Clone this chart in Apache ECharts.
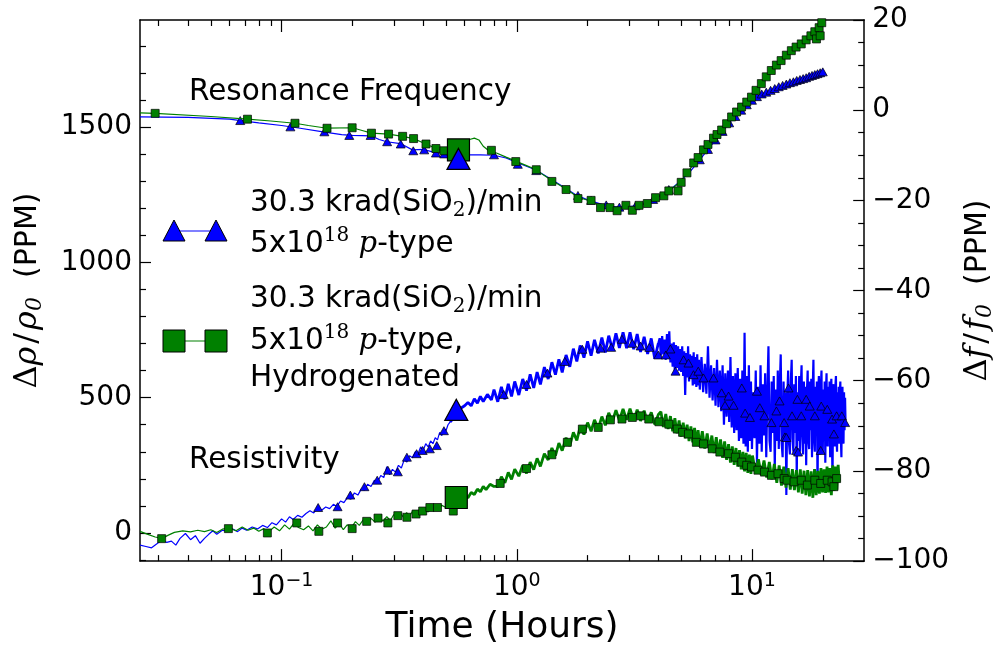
<!DOCTYPE html>
<html><head><meta charset="utf-8">
<script src="https://cdn.jsdelivr.net/npm/echarts@6/dist/echarts.min.js"></script>
<style>html,body{margin:0;padding:0;background:#fff}#c{width:1004px;height:651px}</style>
</head><body><div id="c"></div>
<script>
// ---------- tick values ----------
const xMajorTicks = [0.1, 1, 10];
const xMinorTicks = [0.03,0.04,0.05,0.06,0.07,0.08,0.09,0.2,0.3,0.4,0.5,0.6,0.7,0.8,0.9,2,3,4,5,6,7,8,9,20];
const leftMajorTicks = [0, 500, 1000, 1500];
const leftMinorTicks = [-100,100,200,300,400,600,700,800,900,1100,1200,1300,1400,1600,1700,1800];

// ---------- Resonance frequency (right axis, ppm) ----------
const freqBlueLine = [[0.025,-1.5],[0.04,-1.6],[0.06,-2.0],[0.067,-2.3],[0.08,-2.8],[0.1,-3.4],[0.12,-4.0],[0.15,-4.8],[0.18,-5.4],[0.2,-5.6],[0.24,-5.7],[0.26,-6.5],[0.28,-7.0],[0.32,-7.4],[0.36,-8.8],[0.4,-8.7],[0.45,-9.4],[0.5,-9.7],[0.57,-9.9],[0.7,-9.9],[0.8,-10.0],[0.9,-10.6],[1.0,-11.6],[1.2,-13.2],[1.4,-15.3],[1.6,-17.2],[1.8,-18.9],[2.0,-19.9],[2.3,-20.9],[2.6,-21.4],[2.9,-21.5],[3.2,-21.2],[3.6,-20.4],[4.0,-19.2],[4.5,-17.6],[5.0,-15.6],[5.5,-13.4],[6.0,-11.0],[6.5,-8.7],[7.0,-6.6],[7.5,-4.7],[8.0,-2.8],[9.0,0.0],[10.0,2.2],[11,3.6],[12,4.4],[13.3,5.4],[15,6.2],[17,7.2],[20,8.4]];
const freqGreenLine = [[0.025,-0.6],[0.029,-0.7],[0.05,-1.4],[0.0716,-2.0],[0.09,-2.4],[0.114,-2.9],[0.13,-3.4],[0.156,-4.0],[0.2,-3.9],[0.22,-4.5],[0.241,-5.1],[0.285,-5.3],[0.327,-5.8],[0.364,-6.3],[0.411,-7.5],[0.453,-8.5],[0.49,-9.0],[0.55,-9.0],[0.6,-8.8],[0.63,-6.5],[0.66,-6.2],[0.69,-6.6],[0.72,-8.0],[0.77,-9.2],[0.82,-9.5],[0.9,-10.4],[1.0,-11.4],[1.1,-12.3],[1.21,-13.2],[1.3,-14.4],[1.41,-15.6],[1.62,-17.5],[1.82,-19.3],[2.07,-20.2],[2.27,-21.2],[2.49,-21.6],[2.7,-21.9],[2.91,-21.6],[3.1,-21.7],[3.31,-21.2],[3.59,-20.6],[3.89,-19.5],[4.22,-18.6],[4.43,-17.9],[4.85,-16.3],[5.29,-14.0],[5.65,-11.9],[6.22,-9.0],[6.86,-6.3],[7.43,-4.4],[8.19,-1.7],[9.03,0.6],[9.95,2.9],[10.96,5.7],[12.08,8.6],[13.3,10.9],[14.7,13.0],[16.2,14.8],[17.8,16.5],[19.3,18.2],[20,19.4]];
const freqBlueMarks = [[0.0667,-2.3],[0.109,-3.7],[0.152,-4.8],[0.194,-5.6],[0.239,-5.6],[0.281,-7.0],[0.321,-7.5],[0.363,-9.0],[0.404,-8.8],[0.453,-9.5],[0.491,-9.7],[0.8,-9.9],[1.01,-12.0],[1.21,-13.4],[1.82,-18.9],[2.07,-20.0],[2.4,-21.0],[2.73,-21.5],[3.2,-21.2],[3.8,-19.8],[4.43,-17.6],[6.0,-11.0],[6.5,-8.7],[7.0,-6.6],[7.5,-4.7],[8.0,-2.8],[8.5,-1.4],[9.0,0.0],[9.5,1.2],[10.0,2.2],[10.5,3.0],[11,3.6],[11.5,4.0],[12,4.4],[12.5,4.8],[13,5.2],[13.5,5.5],[14,5.8],[14.5,6.1],[15,6.3],[15.5,6.6],[16,6.8],[16.5,7.0],[17,7.2],[17.5,7.5],[18,7.7],[18.5,7.9],[19,8.1],[19.5,8.3],[20,8.5]];
const freqGreenMarks = [[0.029,-0.7],[0.0716,-2.0],[0.114,-2.9],[0.156,-4.0],[0.1995,-3.9],[0.241,-5.1],[0.285,-5.3],[0.327,-5.8],[0.364,-6.3],[0.411,-7.5],[0.453,-8.5],[0.49,-9.0],[0.78,-8.9],[0.99,-11.4],[1.21,-13.2],[1.41,-15.8],[1.62,-17.6],[1.82,-19.6],[2.07,-20.0],[2.27,-21.6],[2.49,-21.6],[2.67,-22.3],[2.91,-21.1],[3.1,-22.2],[3.31,-21.1],[3.59,-20.7],[3.89,-19.4],[4.22,-19.0],[4.43,-17.9],[4.85,-17.9],[5.0,-16.0],[5.29,-13.9],[5.65,-11.7],[5.9,-10.5],[6.22,-8.8],[6.5,-7.6],[6.86,-6.2],[7.1,-5.4],[7.43,-4.4],[7.8,-3.0],[8.19,-1.5],[8.6,-0.4],[9.03,0.7],[9.5,1.8],[9.95,2.9],[10.4,4.4],[10.96,5.9],[11.5,7.4],[12.08,8.8],[12.7,10.0],[13.3,11.0],[14.0,12.2],[14.7,13.2],[15.4,14.0],[16.2,14.7],[17.0,15.6],[17.8,16.5],[18.5,17.4],[18.8,15.8],[19.3,18.3],[19.5,16.5],[19.8,19.4]];

// ---------- Resistivity (left axis, ppm) ----------
const resBlueEarly = [[0.025,-45],[0.0265,-50],[0.028,-55],[0.0295,-40],[0.031,-25],[0.0325,-35],[0.034,-30],[0.0355,-45],[0.037,-20],[0.039,-2],[0.041,-25],[0.043,-10],[0.045,-38],[0.047,-20],[0.049,-5],[0.051,8],[0.053,-5],[0.056,10],[0.059,6],[0.062,15],[0.065,5],[0.068,18],[0.071,10],[0.075,22],[0.079,15],[0.083,28],[0.087,20],[0.091,38],[0.095,30],[0.1,52],[0.104,40],[0.108,60],[0.112,50],[0.117,65],[0.122,58],[0.127,72],[0.132,82],[0.137,74],[0.142,92],[0.148,84],[0.154,96],[0.16,90],[0.166,106],[0.172,98],[0.178,118],[0.184,112],[0.19,130],[0.197,125],[0.204,148],[0.211,140],[0.218,162],[0.225,158],[0.232,180],[0.24,172],[0.248,195],[0.256,188],[0.264,212],[0.272,205],[0.28,245],[0.288,215],[0.296,235],[0.305,225],[0.314,250],[0.323,240],[0.332,270],[0.341,262],[0.35,285],[0.36,278],[0.37,300],[0.38,292],[0.39,318],[0.4,305],[0.41,330],[0.42,318],[0.43,340],[0.44,330],[0.45,352],[0.46,344],[0.47,372],[0.48,360],[0.49,385],[0.5,378],[0.51,400],[0.52,410]];
const resBlueMid = [[0.52,410],[0.54,425],[0.56,440],[0.58,462],[0.6,470],[0.62,482],[0.64,470],[0.66,496],[0.68,480],[0.7,505],[0.72,486],[0.75,512],[0.78,492],
[0.80,530],[0.83,485],[0.86,540],[0.89,494],[0.92,551],[0.95,505],[0.98,560],[1.02,510],[1.06,569],[1.10,526],[1.14,586],[1.18,536],[1.22,595],[1.26,549],[1.31,613],[1.36,569],[1.41,631],[1.46,585],[1.51,642],[1.56,593],[1.62,658],[1.68,614],[1.74,681],[1.80,634],[1.86,693],[1.93,648],[2.00,708],[2.07,655],[2.14,714],[2.22,664],[2.30,722],[2.38,667],[2.46,729],[2.55,679],[2.64,738],[2.73,684],[2.83,742],[2.93,683],[3.03,742],[3.14,679],[3.25,735],[3.36,669],[3.48,725],[3.60,662],[3.73,719],[3.86,644],[4.00,702]];
const resBlueLate = [[4.00,702],[4.05,720],[4.10,655],[4.15,728],[4.20,660],[4.25,715],[4.30,640],[4.35,735],[4.40,650],[4.45,745],[4.50,630],[4.55,700],[4.60,615],[4.65,705],[4.70,590],[4.75,695],[4.80,610],[4.85,690],[4.90,600],[4.95,680],[5.00,595],[5.05,690],[5.10,580],[5.15,672],[5.20,510],[5.25,665],[5.30,575],[5.35,690],[5.40,560],[5.45,660],[5.50,570],[5.55,655],[5.60,545],[5.65,668],[5.70,550],[5.75,650],[5.80,540],[5.85,660],[5.90,545],[5.95,640],[6.00,530],
[6.1,650],[6.2,520],[6.3,625],[6.4,515],[6.5,690],[6.6,500],[6.7,620],[6.8,490],[6.9,610],[7.0,470],[7.1,640],[7.2,465],[7.3,600],[7.4,450],[7.5,620],[7.6,400],[7.7,590],[7.8,430],[7.9,600],[8.0,410],[8.1,650],[8.2,390],[8.3,580],[8.4,370],[8.5,590],[8.6,380],[8.7,610],[8.8,340],[8.9,570],[9.0,350],[9.1,600],[9.2,330],[9.3,740],[9.4,320],[9.5,580],[9.6,300],[9.7,620],[9.8,340],[9.9,560],[10.0,310],
[10.125,520],[10.25,350],[10.375,600],[10.5,260],[10.625,540],[10.75,330],[10.875,620],[11.0,300],[11.125,550],[11.25,360],[11.375,590],[11.5,280],[11.625,520],[11.75,690],[11.875,340],[12.0,300],[12.125,560],[12.25,370],[12.375,580],[12.5,240],[12.625,530],[12.75,340],[12.875,600],[13.0,310],[13.125,540],[13.25,660],[13.375,330],[13.5,280],[13.625,560],[13.75,360],[13.875,520],[14.0,140],[14.125,500],[14.25,600],[14.375,330],[14.5,290],[14.625,560],[14.75,640],[14.875,350],[15.0,300],[15.125,550],[15.25,370],[15.375,580],[15.5,200],[15.625,520],[15.75,340],[15.875,580],[16.0,300],[16.125,540],[16.25,620],[16.375,360],[16.5,290],[16.625,560],[16.75,330],[16.875,540],[17.0,250],[17.125,520],[17.25,600],[17.375,340],[17.5,310],[17.625,560],[17.75,380],[17.875,570],[18.0,280],[18.125,530],[18.25,640],[18.375,350],[18.5,300],[18.625,540],[18.75,360],[18.875,560],[19.0,150],[19.125,520],[19.25,580],[19.375,340],[19.5,290],[19.625,540],[19.75,600],[19.875,340],[20.0,300],[20.125,530],[20.25,370],[20.375,560],[20.5,260],[20.625,520],[20.75,590],[20.875,350],[21.0,320],[21.125,540],[21.25,380],[21.375,560],[21.5,280],[21.625,520],[21.75,570],[21.875,360],[22.0,190],[22.125,510],[22.25,550],[22.375,340],[22.5,320],[22.625,540],[22.75,580],[22.875,350],[23.0,300],[23.125,520],[23.25,370],[23.375,540],[23.5,330],[23.625,520],[23.75,560],[23.875,350],[24.0,280],[24.125,510],[24.25,540],[24.375,350],[24.5,330],[24.625,520],[24.75,380],[24.875,500],[25.0,400]];
const resGreenEarly = [[0.025,6],[0.027,-5],[0.029,-15],[0.031,-20],[0.033,-8],[0.035,2],[0.038,8],[0.041,4],[0.044,10],[0.047,5],[0.05,12],[0.053,2],[0.056,14],[0.06,18],[0.064,8],[0.068,22],[0.072,10],[0.076,18],[0.08,6],[0.084,16],[0.088,4],[0.093,22],[0.098,8],[0.103,30],[0.108,14],[0.113,36],[0.118,20],[0.124,12],[0.13,26],[0.136,8],[0.142,30],[0.148,14],[0.155,22],[0.162,45],[0.169,18],[0.176,35],[0.183,12],[0.19,30],[0.198,20],[0.206,42],[0.214,28],[0.222,48],[0.23,32],[0.24,54],[0.25,40],[0.26,62],[0.27,44],[0.28,60],[0.29,46],[0.3,68],[0.31,55],[0.32,72],[0.33,58],[0.34,75],[0.35,62],[0.36,80],[0.37,66],[0.38,84],[0.39,72],[0.4,88],[0.42,78],[0.44,95],[0.46,86],[0.48,102],[0.5,94],[0.52,108],[0.54,100]];
const resGreenLate = [[0.54,100],[0.56,118],[0.58,125],[0.6,140],[0.62,130],[0.64,150],[0.66,142],[0.68,162],[0.7,152],[0.72,172],[0.74,160],[0.77,180],[0.8,172],
[0.83,172],[0.86,208],[0.89,185],[0.92,224],[0.95,198],[0.98,236],[1.02,210],[1.06,250],[1.10,220],[1.14,262],[1.18,234],[1.22,276],[1.26,246],[1.31,293],[1.36,270],[1.41,314],[1.46,286],[1.51,332],[1.56,304],[1.62,352],[1.68,322],[1.74,372],[1.80,342],[1.86,392],[1.93,364],[2.00,408],[2.07,376],[2.14,418],[2.22,386],[2.30,430],[2.38,398],[2.46,444],[2.55,412],[2.64,454],[2.73,416],[2.83,458],[2.93,418],[3.03,459],[3.14,416],[3.25,456],[3.36,414],[3.48,452],[3.60,408],[3.73,446],[3.86,401],[4.00,438],
[4.1,448],[4.2,392],[4.3,440],[4.4,384],[4.5,432],[4.6,376],[4.7,424],[4.8,368],[4.9,416],[5.0,356],[5.1,408],[5.2,350],[5.3,400],[5.4,340],[5.5,394],[5.6,335],[5.7,388],[5.8,328],[5.9,380],[6.0,320],
[6.15,376],[6.3,312],[6.45,368],[6.6,305],[6.75,360],[6.9,295],[7.05,354],[7.2,288],[7.35,346],[7.5,278],[7.65,338],[7.8,270],[7.95,328],[8.1,260],[8.25,320],[8.4,252],[8.55,314],[8.7,245],[8.85,306],[9.0,235],[9.15,300],[9.3,228],[9.45,296],[9.6,222],[9.75,290],[9.9,218],[10.05,286],
[10.35,222],[10.65,272],[10.95,215],[11.25,268],[11.55,205],[11.85,262],[12.15,198],[12.45,255],[12.75,185],[13.05,250],[13.35,175],[13.65,245],[13.95,168],[14.25,240],[14.55,160],[14.85,236],[15.15,158],[15.45,232],[15.75,150],[16.05,235],[16.35,145],[16.65,230],[16.95,140],[17.25,232],[17.55,135],[17.85,228],[18.15,130],[18.45,236],[18.75,140],[19.05,230],[19.35,145],[19.65,240],[19.95,150],[20.25,235],[20.55,148],[20.85,245],[21.15,150],[21.45,240],[21.75,140],[22.05,250],[22.35,155],[22.65,245],[22.95,160],[23.25,252],[23.5,190]];
const resBlueMarks = [[0.143,94],[0.173,97],[0.196,140],[0.225,171],[0.255,195],[0.283,232],[0.312,226],[0.341,280],[0.375,293],[0.398,305],[0.427,311],[0.457,323],[0.49,378],[0.88,512],[1.1,549],[1.35,591],[1.6,634],[1.9,679],[2.27,683],[2.52,686],[2.8,716],[3.1,701],[3.36,691],[3.66,686],[4.0,658],[4.3,658],[4.5,680],[4.73,598],[5.12,640],[5.37,628],[5.64,585],[5.91,598],[6.22,573],[6.86,573],[7.43,518],[7.68,472],[7.95,506],[8.35,472],[9.05,536],[9.35,443],[9.8,427],[10.5,524],[10.8,463],[11.3,433],[12.1,408],[12.7,451],[13.1,488],[13.7,408],[13.8,355],[14.0,353],[14.3,536],[14.8,433],[15.4,305],[15.6,494],[15.7,299],[16.2,433],[17.0,494],[17.6,469],[18.5,433],[19.6,305],[19.7,469],[20.9,457],[21.9,421],[22.3,366],[22.9,433],[24.1,433],[24.9,408]];
const resGreenMarks = [[0.0309,-21],[0.0594,16],[0.087,0],[0.116,37],[0.144,6],[0.173,37],[0.1995,16],[0.23,43],[0.257,55],[0.283,37],[0.312,64],[0.341,58],[0.373,70],[0.398,81],[0.427,94],[0.46,94],[0.537,81],[0.85,183],[1.1,238],[1.41,289],[1.64,335],[1.9,384],[2.22,390],[2.5,418],[2.8,421],[3.1,427],[3.36,433],[3.64,421],[4.02,411],[4.43,402],[4.81,384],[5.07,372],[5.37,366],[5.8,335],[6.22,329],[6.77,311],[7.3,299],[7.95,293],[8.5,280],[9.05,262],[9.5,250],[9.95,244],[10.6,232],[11.3,225],[12.1,213],[12.9,219],[13.7,201],[14.1,195],[15.1,189],[16.2,195],[17.2,177],[18.5,195],[19.6,183],[20.9,195],[21.9,189],[22.3,171],[22.9,201]];

// ---------- emphasised points ----------
const bigBlueRes = [[0.553,455]];
const bigGreenRes = [[0.553,131]];
const bigBlueFreq = [[0.565,-10.8]];
const bigGreenFreq = [[0.565,-8.8]];

// ---------- text ----------
const legendLines = [
  '30.3 krad(SiO{sub|2})/min', '5x10{sup|18} {it|p}-type',
  '30.3 krad(SiO{sub|2})/min', '5x10{sup|18} {it|p}-type,', 'Hydrogenated'
];
const annotations = ['Resonance Frequency', 'Resistivity'];
const xTitle = 'Time (Hours)';
const leftTitle = '{d|\u0394}{i|\u03c1}{sl|/}{i|\u03c1}{s|0}{a|  (PPM)}';
const rightTitle = '{d|\u0394}{i|f}{sl|/}{i|f}{s|0}{a|  (PPM)}';

const BLUE = '#0000ff', GREEN = '#008000';
const FONT = 'DejaVu Sans';
const TXT = '29.5px "DejaVu Sans"';
const richText = {
  sub: {fontSize: 20, fontFamily: 'DejaVu Serif', verticalAlign: 'bottom', lineHeight: 20, fill: '#000'},
  sup: {fontSize: 20, fontFamily: 'DejaVu Serif', verticalAlign: 'top', lineHeight: 20, fill: '#000'},
  it: {fontSize: 29, fontFamily: 'DejaVu Serif', fontStyle: 'italic', fill: '#000'}
};
const titleRich = {
  a: {fontSize: 30, fontFamily: FONT, color: '#000'},
  d: {fontSize: 32, fontFamily: 'DejaVu Serif', color: '#000'},
  i: {fontSize: 32, fontFamily: 'DejaVu Serif', fontStyle: 'italic', color: '#000'},
  sl: {fontSize: 32, fontFamily: 'DejaVu Serif', color: '#000', padding: [0, 3, 0, 3]},
  s: {fontSize: 22, fontFamily: 'DejaVu Serif', fontStyle: 'italic', verticalAlign: 'bottom', lineHeight: 22, color: '#000'}
};

const chart = echarts.init(document.getElementById('c'), null, {renderer: 'canvas'});
const axisLineStyle = {color: '#000', width: 1.5};
const supFmt = v => { const e = Math.round(Math.log10(v)); return '10{s|' + (e < 0 ? '\u2212' + (-e) : e) + '}'; };

function xAx(pos, major, withLabel) {
  return {
    type: 'log', logBase: 10, min: 0.025, max: 30, position: pos,
    splitLine: {show: false},
    axisLine: {show: major, onZero: false, lineStyle: axisLineStyle},
    axisTick: {show: true, inside: true, length: major ? 12 : 6, customValues: major ? xMajorTicks : xMinorTicks, lineStyle: {color: '#000', width: 1.2}},
    axisLabel: withLabel ? {
      show: true, customValues: xMajorTicks, formatter: supFmt, margin: 10,
      color: '#000', fontSize: 28, fontFamily: FONT, lineHeight: 34,
      rich: {s: {fontSize: 19, fontFamily: FONT, verticalAlign: 'top', lineHeight: 19, color: '#000'}}
    } : {show: false},
    name: withLabel ? xTitle : '', nameLocation: 'middle', nameGap: 44,
    nameTextStyle: {fontSize: 36, fontFamily: FONT, color: '#000'}
  };
}

function marks(data, yIdx, shape, size, color, bw, z) {
  return {type: 'scatter', data: data, yAxisIndex: yIdx, symbol: shape, symbolSize: size,
    itemStyle: {color: color, borderColor: '#000', borderWidth: bw, opacity: 1}, z: z,
    emphasis: {disabled: true}};
}
function line(data, yIdx, color, w, z) {
  return {type: 'line', data: data, yAxisIndex: yIdx, showSymbol: false, symbol: 'none',
    lineStyle: {color: color, width: w, opacity: 1}, z: z, emphasis: {disabled: true}};
}

const option = {
  animation: false,
  backgroundColor: '#fff',
  grid: {left: 140, right: 133, top: 20, bottom: 84, containLabel: false},
  xAxis: [xAx('bottom', true, true), xAx('bottom', false, false), xAx('top', true, false), xAx('top', false, false)],
  yAxis: [
    {
      type: 'value', min: -104, max: 1896, position: 'left',
      splitLine: {show: false},
      axisLine: {show: true, onZero: false, lineStyle: axisLineStyle},
      axisTick: {inside: true, length: 11, customValues: leftMajorTicks, lineStyle: {color: '#000', width: 1.2}},
      axisLabel: {customValues: leftMajorTicks, color: '#000', fontSize: 28, fontFamily: FONT, margin: 8, formatter: v => String(v)},
      name: leftTitle, nameLocation: 'middle', nameGap: 94,
      nameTextStyle: {lineHeight: 36, rich: titleRich}
    },
    {
      type: 'value', min: -104, max: 1896, position: 'left',
      splitLine: {show: false}, axisLine: {show: false, onZero: false},
      axisTick: {inside: true, length: 6, customValues: leftMinorTicks, lineStyle: {color: '#000', width: 1.2}},
      axisLabel: {show: false}
    },
    {
      type: 'value', min: -100, max: 20, interval: 20, position: 'right',
      splitLine: {show: false},
      axisLine: {show: true, onZero: false, lineStyle: axisLineStyle},
      axisTick: {inside: true, length: 11, lineStyle: {color: '#000', width: 1.2}},
      minorTick: {show: true, splitNumber: 4, length: 6, lineStyle: {color: '#000', width: 1.2}},
      axisLabel: {color: '#000', fontSize: 28, fontFamily: FONT, margin: 8, formatter: v => v < 0 ? '\u2212' + (-v) : String(v)},
      name: rightTitle, nameLocation: 'middle', nameGap: 92,
      nameTextStyle: {lineHeight: 36, rich: titleRich}
    }
  ],
  series: [
    line(resBlueEarly, 0, BLUE, 1.2, 2),
    line(resBlueMid, 0, BLUE, 2.8, 2),
    line(resBlueLate, 0, BLUE, 2.2, 2),
    marks(resBlueMarks, 0, 'triangle', [9, 8], BLUE, 0.7, 3),
    line(resGreenEarly, 0, GREEN, 1.2, 4),
    line(resGreenLate, 0, GREEN, 2.8, 4),
    marks(resGreenMarks, 0, 'rect', 8, GREEN, 0.7, 5),
    line(freqBlueLine, 2, BLUE, 1.2, 2),
    marks(freqBlueMarks, 2, 'triangle', [9, 8], BLUE, 0.7, 3),
    line(freqGreenLine, 2, GREEN, 1.2, 4),
    marks(freqGreenMarks, 2, 'rect', 8, GREEN, 0.7, 5),
    marks(bigGreenRes, 0, 'rect', 22, GREEN, 1.2, 6),
    marks(bigBlueRes, 0, 'triangle', [23, 21], BLUE, 1.2, 6),
    marks(bigGreenFreq, 2, 'rect', 22, GREEN, 1.2, 6),
    marks(bigBlueFreq, 2, 'triangle', [23, 21], BLUE, 1.2, 7)
  ],
  graphic: [
    {type: 'text', x: 189, y: 92, style: {text: annotations[0], font: TXT, fill: '#000', verticalAlign: 'middle'}},
    {type: 'text', x: 189, y: 460, style: {text: annotations[1], font: TXT, fill: '#000', verticalAlign: 'middle'}},
    // legend entry 1
    {type: 'line', shape: {x1: 174, y1: 231, x2: 216, y2: 231}, style: {stroke: BLUE, lineWidth: 1.2}},
    {type: 'polygon', shape: {points: [[174, 220], [163, 241], [185, 241]]}, style: {fill: BLUE, stroke: '#000', lineWidth: 1}},
    {type: 'polygon', shape: {points: [[216, 220], [205, 241], [227, 241]]}, style: {fill: BLUE, stroke: '#000', lineWidth: 1}},
    {type: 'text', x: 250, y: 203, style: {text: legendLines[0], font: TXT, fill: '#000', verticalAlign: 'middle', lineHeight: 36, rich: richText}},
    {type: 'text', x: 250, y: 244, style: {text: legendLines[1], font: TXT, fill: '#000', verticalAlign: 'middle', lineHeight: 36, rich: richText}},
    // legend entry 2
    {type: 'line', shape: {x1: 174, y1: 341, x2: 216, y2: 341}, style: {stroke: GREEN, lineWidth: 1.2}},
    {type: 'rect', shape: {x: 163, y: 330, width: 22, height: 22}, style: {fill: GREEN, stroke: '#000', lineWidth: 1}},
    {type: 'rect', shape: {x: 205, y: 330, width: 22, height: 22}, style: {fill: GREEN, stroke: '#000', lineWidth: 1}},
    {type: 'text', x: 250, y: 299, style: {text: legendLines[2], font: TXT, fill: '#000', verticalAlign: 'middle', lineHeight: 36, rich: richText}},
    {type: 'text', x: 250, y: 341, style: {text: legendLines[3], font: TXT, fill: '#000', verticalAlign: 'middle', lineHeight: 36, rich: richText}},
    {type: 'text', x: 250, y: 378, style: {text: legendLines[4], font: TXT, fill: '#000', verticalAlign: 'middle'}}
  ]
};
chart.setOption(option);
</script></body></html>
